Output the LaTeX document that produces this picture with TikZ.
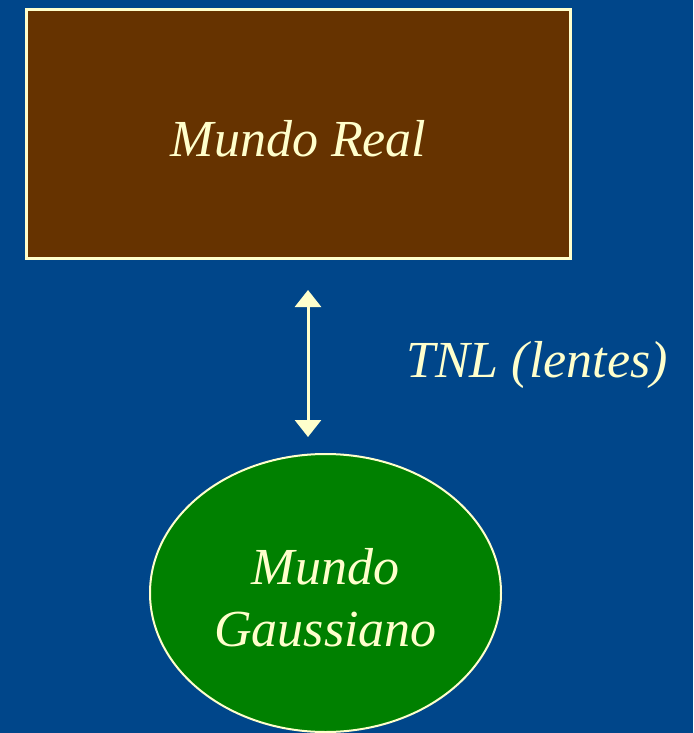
\documentclass[tikz,border=0pt]{standalone}
\usepackage{fontspec}
\setmainfont{Liberation Serif}
\usetikzlibrary{arrows.meta,shapes.geometric}
\definecolor{slideblue}{HTML}{00468A}
\definecolor{realbrown}{HTML}{663300}
\definecolor{gaussgreen}{HTML}{008000}
\definecolor{cream}{HTML}{FFFFCC}
\tikzset{
  bigtext/.style={text=cream, font=\fontsize{52}{62}\selectfont\itshape},
  worldbox/.style={draw=cream, line width=3pt, fill=realbrown, minimum width=544pt, minimum height=249pt, text height=44pt, text depth=0pt, bigtext},
  worldoval/.style={ellipse, draw=cream, line width=2pt, fill=gaussgreen, minimum width=351pt, minimum height=278pt, align=center, bigtext}
}
\begin{document}
\begin{tikzpicture}[x=1pt, y=-1pt, >={Triangle[width=26pt,length=17pt]}]
  % background
  \fill[slideblue] (0,0) rectangle (693,733);
  \useasboundingbox (0,0) rectangle (693,733);

  \node[worldbox] (real) at (298.5,134) {Mundo Real};
  \node[worldoval] (gauss) at (325.5,593) {\rule{0pt}{46pt}Mundo\\Gaussiano};

  % lens transform
  \coordinate (lenstop) at (308,290);
  \coordinate (lensbot) at (308,437);
  \draw[<->, cream, line width=3pt] (lenstop) -- (lensbot);
  \node[bigtext] (tnl) at (537,365) {TNL (lentes)};
\end{tikzpicture}
\end{document}
